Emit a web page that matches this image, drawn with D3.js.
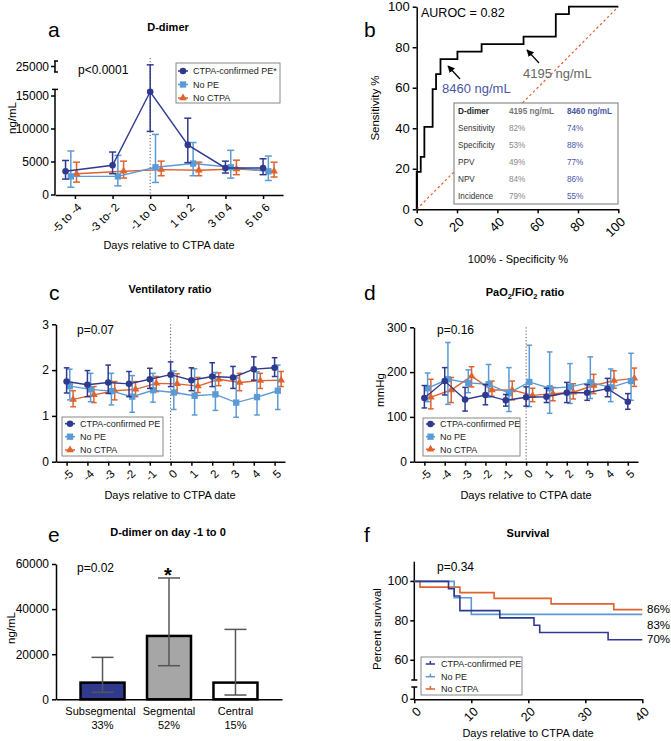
<!DOCTYPE html>
<html><head><meta charset="utf-8">
<script src="https://cdn.jsdelivr.net/npm/d3@7"></script>
<style>body{margin:0;background:#fff}svg{display:block}text{font-family:"Liberation Sans",Arial,sans-serif}</style>
</head><body><svg id="chart" width="671" height="741"></svg>
<script>
// ---------- DATA ----------
// Panel a: D-dimer (ng/mL)
const aCategories = ["-5 to -4","-3 to- 2","-1 to 0","1 to 2","3 to 4","5 to 6"];
const aPointPos = [-0.25, 1, 2, 3, 4, 5];
const aPE     = [3590, 4510, 15640, 7590, 4100, 4100];
const aPElo   = [2410, 3230, 9640, 4900, 3330, 3080];
const aPEhi   = [5230, 6510, 25300, 11640, 5130, 5490];
const aNoPE   = [2820, 2820, 4200, 4770, 4200, 3590];
const aNoPElo = [1180, 1380, 1900, 2920, 2560, 2200];
const aNoPEhi = [6670, 6000, 9180, 7950, 6770, 5900];
const aNoCT   = [3230, 3590, 3850, 3740, 3950, 3590];
const aNoCTlo = [1950, 2560, 2920, 2920, 3080, 2720];
const aNoCThi = [4970, 5130, 5130, 4970, 5280, 4970];
const aYTicks = [0, 5000, 10000, 15000];
const aYTickBreak = [25000];

// Panel b: ROC
const rocFPR = [0,0,2,2,3.8,3.8,7.9,7.9,9.6,9.6,11.8,11.8,20.2,20.2,32.2,32.2,53,53,69,69,75.5,75.5,100];
const rocTPR = [0,18.5,18.5,25.9,25.9,40.7,40.7,59.3,59.3,66.7,66.7,74.1,74.1,77.8,77.8,81.5,81.5,85.2,85.2,96.3,96.3,100,100];
const bTicks = [0,20,40,60,80,100];
const tableRows = ["Sensitivity","Specificity","PPV","NPV","Incidence"];
const tableCol4195 = ["82%","53%","49%","84%","79%"];
const tableCol8460 = ["74%","88%","77%","86%","55%"];

// Panel c: Ventilatory ratio
const days = [-5,-4,-3,-2,-1,0,1,2,3,4,5];
const cPE     = [1.75,1.68,1.73,1.70,1.80,1.90,1.78,1.86,1.84,2.02,2.05];
const cPElo   = [1.50,1.42,1.49,1.42,1.60,1.64,1.55,1.64,1.60,1.78,1.86];
const cPEhi   = [2.05,1.99,2.11,1.97,2.04,2.18,2.05,2.16,2.08,2.29,2.27];
const cNoPE   = [1.65,1.58,1.54,1.42,1.56,1.51,1.44,1.47,1.29,1.41,1.55];
const cNoPElo = [1.35,1.31,1.24,1.08,1.30,1.14,1.02,1.12,0.97,1.02,1.14];
const cNoPEhi = [2.02,1.93,1.93,1.88,1.93,1.98,2.03,1.95,1.83,1.96,2.11];
const cNoCT   = [1.36,1.46,1.55,1.58,1.71,1.70,1.65,1.80,1.73,1.77,1.78];
const cNoCTlo = [1.20,1.29,1.35,1.42,1.53,1.49,1.51,1.66,1.55,1.60,1.64];
const cNoCThi = [1.55,1.64,1.75,1.75,1.86,1.92,1.84,1.94,1.93,1.93,1.97];
const cYTicks = [0,1,2,3];

// Panel d: PaO2/FiO2 (mmHg)
const dPE     = [142,180,139,149,137,144,145,154,154,163,134];
const dPElo   = [120,149,113,127,124,124,132,132,137,145,117];
const dPEhi   = [170,210,166,172,150,167,164,177,172,186,152];
const dNoPE   = [164,184,176,173,153,178,164,167,177,166,180];
const dNoPElo = [134,128,154,144,112,123,108,130,141,134,137];
const dNoPEhi = [198,266,205,217,210,260,245,219,234,207,242];
const dNoCT   = [144,160,191,160,160,148,152,155,170,181,186];
const dNoCTlo = [118,132,167,146,138,134,136,140,152,164,168];
const dNoCThi = [184,188,212,180,180,164,166,174,195,203,209];
const dYTicks = [0,100,200,300];

// Panel e: D-dimer day -1 to 0 by location
const eCategories = ["Subsegmental","Segmental","Central"];
const ePercents = ["33%","52%","15%"];
const eValues = [7400, 28100, 7400];
const eLo = [3100, 14900, 1900];
const eHi = [18600, 53800, 31000];
const eYTicks = [0,20000,40000,60000];

// Panel f: Survival (step points: day, percent)
const fPEdays  = [0,6,6,7,7,8,8,15,15,21,21,22,22,34,34,40];
const fPEsurv  = [100,100,96.3,96.3,92.6,92.6,85.2,85.2,81.5,81.5,77.8,77.8,74.1,74.1,70.4,70.4];
const fNoPEdays = [0,7,7,10,10,40];
const fNoPEsurv = [100,100,91.7,91.7,83.3,83.3];
const fNoCTdays = [0,1,1,8,8,14,14,24,24,35,35,40];
const fNoCTsurv = [100,100,97.1,97.1,94.3,94.3,91.4,91.4,88.6,88.6,85.7,85.7];
const fXTicks = [0,10,20,30,40];
const fYTicks = [60,80,100];
const fEndLabels = ["86%","83%","70%"];
const fEndLabelAt = [86.2, 78.3, 71.2];

const seriesNames = ["CTPA-confirmed PE","No PE","No CTPA"];
const seriesNamesF = ["CTPA-confirmed PE","No  PE","No CTPA"];

// ---------- STYLE ----------
const C_PE = "#2f3a8f", C_NOPE = "#5b9bd5", C_NOCT = "#e0622c";
const FONT = "Liberation Sans, Arial, sans-serif";
const svg = d3.select("#chart");
const plain = d => String(d);

function styleAxis(g, fs) {
  g.attr("font-family", FONT);
  g.select(".domain").attr("stroke", "#000").attr("stroke-width", 1.5);
  g.selectAll(".tick line").attr("stroke", "#000").attr("stroke-width", 1.5);
  g.selectAll(".tick text").attr("font-size", fs || 12).attr("fill", "#000");
}
function rotateLabels(g, dx, dy) {
  g.selectAll(".tick text").attr("text-anchor", "end").attr("y", 0).attr("x", 0).attr("dy", "0.35em")
    .attr("transform", `translate(${dx},${dy}) rotate(-45)`);
}
function txt(x, y, s, o) {
  o = o || {};
  return svg.append("text").attr("x", x).attr("y", y).text(s)
    .attr("font-size", o.size || 12).attr("font-weight", o.bold ? "bold" : "normal")
    .attr("text-anchor", o.anchor || "start").attr("fill", o.fill || "#000");
}
function vtxt(x, y, s, size) {
  return svg.append("text").attr("transform", `translate(${x},${y}) rotate(-90)`).text(s)
    .attr("font-size", size || 11).attr("text-anchor", "middle").attr("fill", "#000");
}
function marker(g, type, x, y, color) {
  const sym = type === 0 ? d3.symbolCircle : type === 1 ? d3.symbolSquare : d3.symbolTriangle;
  const size = type === 0 ? 34 : type === 1 ? 40 : 26;
  g.append("path").attr("d", d3.symbol(sym, size)()).attr("transform", `translate(${x},${y})`).attr("fill", color);
}
function errBar(g, x, y1, y2, color, cap) {
  g.append("line").attr("x1", x).attr("x2", x).attr("y1", y1).attr("y2", y2).attr("stroke", color).attr("stroke-width", 1.5);
  [y1, y2].forEach(yy => g.append("line").attr("x1", x - cap).attr("x2", x + cap).attr("y1", yy).attr("y2", yy).attr("stroke", color).attr("stroke-width", 1.5));
}
function drawSeries(g, xs, ys, los, his, x, y, color, type, offset, cap) {
  const line = d3.line().x((d, i) => x(xs[i]) + offset).y(d => y(d));
  xs.forEach((d, i) => errBar(g, x(d) + offset, y(los[i]), y(his[i]), color, cap));
  g.append("path").datum(ys).attr("d", line).attr("fill", "none").attr("stroke", color).attr("stroke-width", 1.4);
  ys.forEach((v, i) => marker(g, type, x(xs[i]) + offset, y(v), color));
}
function legend(x0, y0, w, h, ys, lx1, lx2, tx, names, fs, survival) {
  svg.append("rect").attr("x", x0).attr("y", y0).attr("width", w).attr("height", h).attr("fill", "#fff").attr("stroke", "#888").attr("stroke-width", 1);
  const cols = [C_PE, C_NOPE, C_NOCT];
  const g = svg.append("g");
  names.forEach((n, i) => {
    g.append("line").attr("x1", lx1).attr("x2", lx2).attr("y1", ys[i]).attr("y2", ys[i]).attr("stroke", cols[i]).attr("stroke-width", 1.5);
    if (survival) {
      g.append("line").attr("x1", (lx1 + lx2) / 2).attr("x2", (lx1 + lx2) / 2).attr("y1", ys[i] - 3).attr("y2", ys[i]).attr("stroke", cols[i]).attr("stroke-width", 1.5);
    } else marker(g, i, (lx1 + lx2) / 2, ys[i], cols[i]);
    g.append("text").attr("x", tx).attr("y", ys[i] + 3.2).text(n).attr("font-size", fs).attr("fill", "#222");
  });
}

// ---------- PANEL A ----------
{
  const x = d3.scaleLinear().domain([-0.53, 5.53]).range([55, 283]);
  const y = d3.scaleLinear().domain([0, 16000, 24000, 26000]).range([195, 89.4, 72, 61]);
  const gx = svg.append("g").attr("transform", "translate(0,195)")
    .call(d3.axisBottom(x).tickValues(d3.range(aCategories.length)).tickFormat(i => aCategories[i]).tickSize(4).tickSizeOuter(0));
  styleAxis(gx, 11.5); rotateLabels(gx, 4, 10);
  const gy = svg.append("g").attr("transform", "translate(55,0)");
  gy.append("line").attr("x1", 0).attr("x2", 0).attr("y1", y(0)).attr("y2", y(16000)).attr("stroke", "#000").attr("stroke-width", 1.5);
  gy.append("line").attr("x1", -3).attr("x2", 3).attr("y1", y(16000)).attr("y2", y(16000)).attr("stroke", "#000").attr("stroke-width", 1.5);
  gy.append("line").attr("x1", 0).attr("x2", 0).attr("y1", y(24000)).attr("y2", y(26000)).attr("stroke", "#000").attr("stroke-width", 1.5);
  [24000, 26000].forEach(v => gy.append("line").attr("x1", -1).attr("x2", 3).attr("y1", y(v)).attr("y2", y(v)).attr("stroke", "#000").attr("stroke-width", 1.5));
  aYTicks.concat(aYTickBreak).forEach(v => {
    gy.append("line").attr("x1", -4).attr("x2", 0).attr("y1", y(v)).attr("y2", y(v)).attr("stroke", "#000").attr("stroke-width", 1.5);
    gy.append("text").attr("x", -6).attr("y", y(v) + 4).attr("text-anchor", "end").attr("font-size", 12).text(v);
  });
  svg.append("line").attr("x1", x(2)).attr("x2", x(2)).attr("y1", 58).attr("y2", 195).attr("stroke", "#555").attr("stroke-width", 1).attr("stroke-dasharray", "1.2,2");
  const g = svg.append("g");
  drawSeries(g, aPointPos, aNoCT, aNoCTlo, aNoCThi, x, y, C_NOCT, 2, 11, 3.5);
  drawSeries(g, aPointPos, aNoPE, aNoPElo, aNoPEhi, x, y, C_NOPE, 1, 5.3, 3.5);
  drawSeries(g, aPointPos, aPE, aPElo, aPEhi, x, y, C_PE, 0, 0, 3.5);
  legend(176, 63, 104, 40, [71, 84.5, 98], 178, 188, 193, ["CTPA-confirmed PE*", "No PE", "No CTPA"], 9);
  txt(48, 37, "a", { size: 21 });
  txt(168, 31, "D-dimer", { size: 11, bold: true, anchor: "middle" });
  txt(78, 74, "p<0.0001", { size: 12 });
  vtxt(16, 118, "ng/mL", 11.5);
  txt(169, 249, "Days relative to CTPA date", { size: 11, anchor: "middle" });
}

// ---------- PANEL B ----------
{
  const x = d3.scaleLinear().domain([0, 100]).range([416.7, 618.3]);
  const y = d3.scaleLinear().domain([0, 100]).range([209.3, 6.7]);
  const gx = svg.append("g").attr("transform", "translate(0,209.3)").call(d3.axisBottom(x).tickValues(bTicks).tickFormat(plain).tickSize(4).tickSizeOuter(0));
  styleAxis(gx, 13); rotateLabels(gx, 4, 10);
  const gy = svg.append("g").attr("transform", "translate(416.7,0)").call(d3.axisLeft(y).tickValues(bTicks).tickFormat(plain).tickSize(4).tickSizeOuter(0));
  styleAxis(gy, 13);
  svg.append("line").attr("x1", x(0)).attr("y1", y(0)).attr("x2", x(100)).attr("y2", y(100)).attr("stroke", C_NOCT).attr("stroke-width", 1.2).attr("stroke-dasharray", "2.5,2.5");
  const line = d3.line().x((d, i) => x(rocFPR[i])).y(d => y(d));
  svg.append("path").datum(rocTPR).attr("d", line).attr("fill", "none").attr("stroke", "#000").attr("stroke-width", 1.8);
  svg.append("defs").append("marker").attr("id", "ah").attr("viewBox", "0 0 10 10").attr("refX", 9).attr("refY", 5)
    .attr("markerWidth", 6).attr("markerHeight", 6).attr("orient", "auto")
    .append("path").attr("d", "M0,0L10,5L0,10z").attr("fill", "#000");
  svg.append("line").attr("x1", 460).attr("y1", 79).attr("x2", 448).attr("y2", 66).attr("stroke", "#000").attr("stroke-width", 1.2).attr("marker-end", "url(#ah)");
  svg.append("line").attr("x1", 539).attr("y1", 63).attr("x2", 527).attr("y2", 50).attr("stroke", "#000").attr("stroke-width", 1.2).attr("marker-end", "url(#ah)");
  txt(442, 93, "8460 ng/mL", { size: 13, fill: "#4a56a6" });
  txt(523, 78, "4195 ng/mL", { size: 13, fill: "#666" });
  txt(421, 17, "AUROC = 0.82", { size: 12.5 });
  svg.append("rect").attr("x", 454).attr("y", 103).attr("width", 164).attr("height", 101).attr("fill", "#fff").attr("stroke", "#777").attr("stroke-width", 1);
  txt(458, 114, "D-dimer", { size: 8.2, bold: true, fill: "#222" });
  txt(509, 114, "4195 ng/mL", { size: 8.2, bold: true, fill: "#777" });
  txt(567, 114, "8460 ng/mL", { size: 8.2, bold: true, fill: "#4a56a6" });
  tableRows.forEach((r, i) => {
    const yy = 131 + i * 16.9;
    txt(458, yy, r, { size: 8.2, fill: "#333" });
    txt(509, yy, tableCol4195[i], { size: 8.2, fill: "#888" });
    txt(567, yy, tableCol8460[i], { size: 8.2, fill: "#4a56a6" });
  });
  txt(364, 37, "b", { size: 21 });
  vtxt(379, 108, "Sensitivity %", 11.5);
  txt(518, 263, "100% - Specificity %", { size: 11, anchor: "middle" });
}

// ---------- PANELS C & D ----------
function timePanel(o) {
  const x = d3.scaleLinear().domain([-5.51, 5.5]).range([o.x0, o.x1]);
  const y = d3.scaleLinear().domain(o.ydom).range([461.7, o.ytop]);
  const gx = svg.append("g").attr("transform", "translate(0,461.7)").call(d3.axisBottom(x).tickValues(days).tickFormat(plain).tickSize(4).tickSizeOuter(0));
  styleAxis(gx, 11.5); rotateLabels(gx, 4, 10);
  const gy = svg.append("g").attr("transform", `translate(${o.x0},0)`).call(d3.axisLeft(y).tickValues(o.yticks).tickFormat(plain).tickSize(4).tickSizeOuter(0));
  styleAxis(gy, 12);
  svg.append("line").attr("x1", x(0)).attr("x2", x(0)).attr("y1", o.ytop).attr("y2", 461.7).attr("stroke", "#555").attr("stroke-width", 1).attr("stroke-dasharray", "1.2,2");
  const g = svg.append("g");
  drawSeries(g, days, o.s[2][0], o.s[2][1], o.s[2][2], x, y, C_NOCT, 2, 6.5, 2.8);
  drawSeries(g, days, o.s[1][0], o.s[1][1], o.s[1][2], x, y, C_NOPE, 1, 3.2, 2.8);
  drawSeries(g, days, o.s[0][0], o.s[0][1], o.s[0][2], x, y, C_PE, 0, 0, 2.8);
  return x;
}
timePanel({ x0: 56, x1: 285, ydom: [0, 3], ytop: 324.3, yticks: cYTicks,
  s: [[cPE, cPElo, cPEhi], [cNoPE, cNoPElo, cNoPEhi], [cNoCT, cNoCTlo, cNoCThi]] });
legend(62, 417, 101, 39, [423.7, 436.7, 450], 65, 75, 80, seriesNames, 9);
txt(49, 300, "c", { size: 21 });
txt(170, 293, "Ventilatory ratio", { size: 11, bold: true, anchor: "middle" });
txt(77, 334, "p=0.07", { size: 12 });
txt(170, 499, "Days relative to CTPA date", { size: 11, anchor: "middle" });

timePanel({ x0: 414, x1: 638, ydom: [0, 300], ytop: 327.3, yticks: dYTicks,
  s: [[dPE, dPElo, dPEhi], [dNoPE, dNoPElo, dNoPEhi], [dNoCT, dNoCTlo, dNoCThi]] });
legend(423, 418, 97, 38, [424, 436.7, 449.3], 426, 435, 440, ["CTPA-confirmed PE", "No  PE", "No CTPA"], 9);
txt(364, 300, "d", { size: 21 });
{
  const t = svg.append("text").attr("x", 525).attr("y", 296).attr("text-anchor", "middle").attr("font-size", 11).attr("font-weight", "bold");
  t.append("tspan").text("PaO");
  t.append("tspan").text("2").attr("font-size", 7.5).attr("dy", 3);
  t.append("tspan").text("/FiO").attr("dy", -3);
  t.append("tspan").text("2").attr("font-size", 7.5).attr("dy", 3);
  t.append("tspan").text(" ratio").attr("dy", -3);
}
txt(437, 334, "p=0.16", { size: 12 });
vtxt(384, 390, "mmHg", 11.5);
txt(526, 499, "Days relative to CTPA date", { size: 11, anchor: "middle" });

// ---------- PANEL E ----------
{
  const x = d3.scaleBand().domain(eCategories).range([56, 282]).paddingInner(0.5).paddingOuter(0.45);
  const y = d3.scaleLinear().domain([0, 60000]).range([699.3, 564]);
  const fills = [C_PE, "#a6a6a6", "#fff"];
  const bw = 44;
  eCategories.forEach((c, i) => {
    const cx = x(c) + x.bandwidth() / 2;
    svg.append("rect").attr("x", cx - bw / 2).attr("y", y(eValues[i])).attr("width", bw).attr("height", y(0) - y(eValues[i]))
      .attr("fill", fills[i]).attr("stroke", "#000").attr("stroke-width", 2.5);
  });
  eCategories.forEach((c, i) => {
    const cx = x(c) + x.bandwidth() / 2;
    const g = svg.append("g");
    g.append("line").attr("x1", cx).attr("x2", cx).attr("y1", y(eLo[i])).attr("y2", y(eHi[i])).attr("stroke", "#555").attr("stroke-width", 1.5);
    [eLo[i], eHi[i]].forEach(v => g.append("line").attr("x1", cx - 11).attr("x2", cx + 11).attr("y1", y(v)).attr("y2", y(v)).attr("stroke", "#555").attr("stroke-width", 1.5));
    txt(cx - (i === 0 ? 2 : 0), 715, c, { size: 11, anchor: "middle" });
    txt(cx, 729, ePercents[i], { size: 11, anchor: "middle" });
  });
  const gx = svg.append("g").attr("transform", "translate(0,699.3)").call(d3.axisBottom(x).tickSize(0).tickFormat("").tickSizeOuter(0));
  styleAxis(gx);
  const gy = svg.append("g").attr("transform", "translate(56,0)").call(d3.axisLeft(y).tickValues(eYTicks).tickFormat(plain).tickSize(4).tickSizeOuter(0));
  styleAxis(gy, 12);
  txt(48, 542, "e", { size: 21 });
  txt(168, 536, "D-dimer on day -1 to 0", { size: 11, bold: true, anchor: "middle" });
  txt(77, 572, "p=0.02", { size: 12 });
  txt(168, 582, "*", { size: 20, bold: true, anchor: "middle" });
  vtxt(15, 628, "ng/mL", 11.5);
}

// ---------- PANEL F ----------
{
  const x = d3.scaleLinear().domain([0, 40]).range([414.3, 642.3]);
  const y = d3.scaleLinear().domain([0, 5, 50, 110]).range([699.3, 687, 680, 561.7]);
  const gx = svg.append("g").attr("transform", "translate(0,699.3)").call(d3.axisBottom(x).tickValues(fXTicks).tickFormat(plain).tickSize(4).tickSizeOuter(0));
  styleAxis(gx, 12.5); rotateLabels(gx, 4, 10);
  const gy = svg.append("g").attr("transform", "translate(414.3,0)");
  const seg = (a, b) => gy.append("line").attr("x1", 0).attr("x2", 0).attr("y1", y(a)).attr("y2", y(b)).attr("stroke", "#000").attr("stroke-width", 1.5);
  seg(0, 5); seg(50, 110);
  [5, 50].forEach(v => gy.append("line").attr("x1", -3).attr("x2", 3).attr("y1", y(v)).attr("y2", y(v)).attr("stroke", "#000").attr("stroke-width", 1.5));
  fYTicks.concat([0]).forEach(v => {
    gy.append("line").attr("x1", -4).attr("x2", 0).attr("y1", y(v)).attr("y2", y(v)).attr("stroke", "#000").attr("stroke-width", 1.5);
    gy.append("text").attr("x", -6).attr("y", y(v) + 4).attr("text-anchor", "end").attr("font-size", 12.5).text(v);
  });
  const mk = (xs, ys, col) => svg.append("path").datum(ys).attr("d", d3.line().x((d, i) => x(xs[i])).y(d => y(d)))
    .attr("fill", "none").attr("stroke", col).attr("stroke-width", 1.6);
  mk(fNoCTdays, fNoCTsurv, C_NOCT);
  mk(fNoPEdays, fNoPEsurv, C_NOPE);
  mk(fPEdays, fPEsurv, C_PE);
  fEndLabels.forEach((l, i) => txt(647, y(fEndLabelAt[i]) + 4.3, l, { size: 11.5 }));
  legend(421, 657, 101, 38, [664, 676.7, 689], 425.7, 435, 441, seriesNamesF, 9, true);
  txt(364, 542, "f", { size: 21 });
  txt(528, 537, "Survival", { size: 11, bold: true, anchor: "middle" });
  txt(437, 571, "p=0.34", { size: 12 });
  vtxt(381, 629, "Percent survival", 11.5);
  txt(528, 737, "Days relative to CTPA date", { size: 11, anchor: "middle" });
}
</script></body></html>
